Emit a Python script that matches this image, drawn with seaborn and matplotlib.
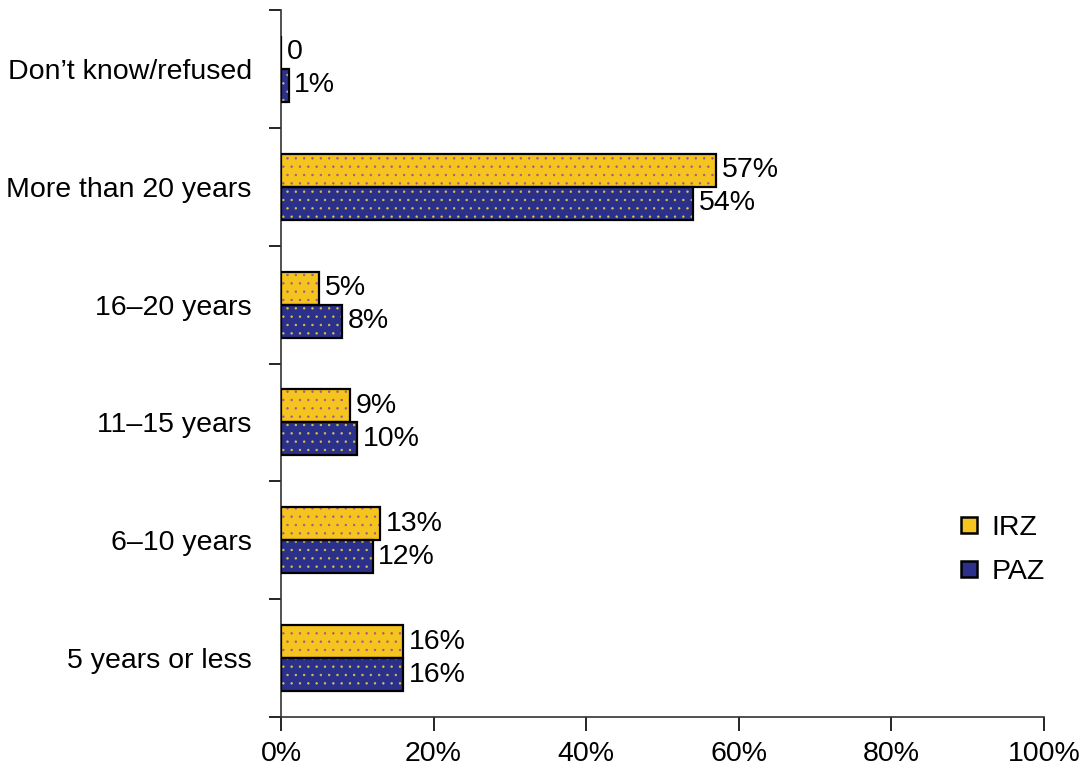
import pandas as pd
import numpy as np
import matplotlib.pyplot as plt
import seaborn as sns
from matplotlib.patches import Rectangle
from matplotlib.lines import Line2D

sns.set_theme(style="white")
plt.rcParams['font.family'] = ['Liberation Sans', 'DejaVu Sans']
plt.rcParams['hatch.linewidth'] = 0.5
plt.rcParams['text.color'] = 'black'
plt.rcParams['xtick.color'] = 'black'
plt.rcParams['ytick.color'] = 'black'
plt.rcParams['xtick.labelcolor'] = 'black'
plt.rcParams['ytick.labelcolor'] = 'black'

categorias = ["Don\u2019t know/refused", "More than 20 years", "16\u201320 years",
              "11\u201315 years", "6\u201310 years", "5 years or less"]
irz = [0, 57, 5, 9, 13, 16]
paz = [1, 54, 8, 10, 12, 16]
rot_irz = ["0", "57%", "5%", "9%", "13%", "16%"]
rot_paz = ["1%", "54%", "8%", "10%", "12%", "16%"]
grupos = ["IRZ", "PAZ"]

cores = {"IRZ": "#F6C41E", "PAZ": "#2B318A"}
pontos = {"IRZ": "#9A5C8E", "PAZ": "#D9C14A"}

df = pd.DataFrame({
    'Categoria': categorias * 2,
    'Grupo': ["IRZ"] * 6 + ["PAZ"] * 6,
    'Valor': irz + paz,
})

fig, ax = plt.subplots(figsize=(10.86, 7.75), dpi=100)
fig.subplots_adjust(left=0.2587, right=0.9613, top=0.987, bottom=0.0748)

sns.barplot(data=df, y='Categoria', x='Valor', hue='Grupo', order=categorias,
            hue_order=grupos, palette=cores, orient='h', width=0.56,
            ax=ax, legend=False, saturation=1)

# hachura pontilhada + contorno preto por cima
for grupo, cont in zip(grupos, ax.containers):
    for p in cont:
        p.set_edgecolor(pontos[grupo])
        p.set_linewidth(0)
        p.set_hatch('..')
        x, y = p.get_xy()
        ax.add_patch(Rectangle((x, y), p.get_width(), p.get_height(), fill=False,
                               edgecolor='black', linewidth=1.6, zorder=3))

ax.bar_label(ax.containers[0], labels=rot_irz, padding=4, fontsize=20.5, color='black')
ax.bar_label(ax.containers[1], labels=rot_paz, padding=4, fontsize=20.5, color='black')

ax.set_xlim(0, 100)
ax.set_ylim(5.5, -0.5)
ax.set_xticks(np.arange(0, 101, 20))
ax.set_xticklabels([f"{v}%" for v in range(0, 101, 20)], fontsize=20.5)
ax.set_yticks(np.arange(-0.5, 6, 1))
ax.set_yticklabels([])
ax.set_yticks(range(6), labels=categorias, minor=True)
ax.tick_params(axis='y', which='minor', length=0, pad=21, labelsize=20.5)
ax.tick_params(axis='y', which='major', length=9, width=1.2, color='black', left=True, direction='out')
ax.tick_params(axis='x', length=10, width=1.2, color='black', pad=7, bottom=True, direction='out')
ax.set_xlabel("")
ax.set_ylabel("")

for lado in ['top', 'right']:
    ax.spines[lado].set_visible(False)
for lado in ['left', 'bottom']:
    ax.spines[lado].set_color('#333333')
    ax.spines[lado].set_linewidth(1.2)

handles = [Line2D([], [], marker='s', linestyle='none', markersize=12,
                  markerfacecolor=cores[g], markeredgecolor='black', markeredgewidth=1.8)
           for g in grupos]
ax.legend(handles, grupos, loc='center right', bbox_to_anchor=(1.035, 0.236),
          frameon=False, fontsize=20.5, handlelength=0.8, handletextpad=0.4,
          labelspacing=0.65)

fig.savefig("out.png", dpi=100)
